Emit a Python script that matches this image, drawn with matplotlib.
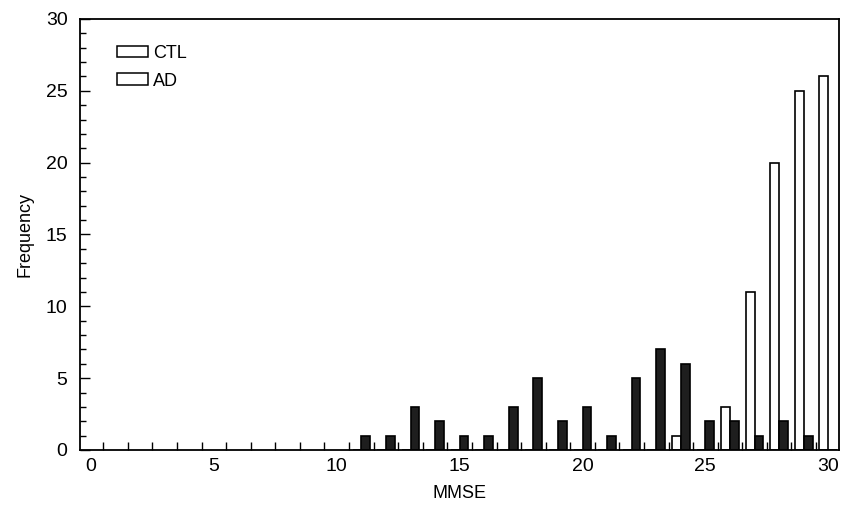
import matplotlib
matplotlib.use("Agg")
import matplotlib.pyplot as plt
from matplotlib.patches import Patch
from matplotlib.ticker import MultipleLocator, FixedLocator

plt.rcParams['font.family'] = ['Liberation Sans', 'DejaVu Sans']

# MMSE score categories
scores = list(range(11, 31))
# Frequencies
ctl_freq = [0, 0, 0, 0, 0, 0, 0, 0, 0, 0, 0, 0, 0, 1, 0, 3, 11, 20, 25, 26]
ad_freq = [1, 1, 3, 2, 1, 1, 3, 5, 2, 3, 1, 5, 7, 6, 2, 2, 1, 2, 1, 0]

x_ticks = [0, 5, 10, 15, 20, 25, 30]
y_ticks = [0, 5, 10, 15, 20, 25, 30]

fig = plt.figure(figsize=(8.43, 5.08), dpi=100)
ax = fig.add_axes([0.0949, 0.1142, 0.9007, 0.8484])

bw = 0.36
ctl_x = [s - bw / 2 for s in scores]
ad_x = [s + bw / 2 for s in scores]
ax.bar(ctl_x, ctl_freq, width=bw, facecolor='white', edgecolor='black',
       linewidth=1.2, zorder=2)
ax.bar(ad_x, ad_freq, width=bw, facecolor='#1e1e1e', edgecolor='black',
       linewidth=1.2, zorder=2)

ax.set_xlim(-0.45, 30.45)
ax.set_ylim(0, 30)

ax.xaxis.set_major_locator(FixedLocator(x_ticks))
ax.xaxis.set_minor_locator(FixedLocator([i + 0.5 for i in range(0, 30)]))
ax.yaxis.set_major_locator(FixedLocator(y_ticks))
ax.yaxis.set_minor_locator(MultipleLocator(1))

ax.tick_params(axis='x', which='major', length=0, pad=6, labelsize=14)
ax.tick_params(axis='x', which='minor', direction='in', length=6, width=1)
ax.tick_params(axis='y', which='major', direction='in', length=7, width=1,
               pad=9, labelsize=14)
ax.tick_params(axis='y', which='minor', direction='in', length=4, width=1)

for sp in ax.spines.values():
    sp.set_linewidth(1.3)

ax.set_xlabel('MMSE', fontsize=13, labelpad=7)
ax.set_ylabel('Frequency', fontsize=13, labelpad=9)

handles = [Patch(facecolor='white', edgecolor='black', linewidth=1.1, label='CTL'),
           Patch(facecolor='white', edgecolor='black', linewidth=1.1, label='AD')]
ax.legend(handles=handles, loc='upper left', bbox_to_anchor=(0.039, 0.957),
          frameon=False, fontsize=13, handlelength=1.7, handleheight=0.6,
          handletextpad=0.3, labelspacing=0.6, borderaxespad=0)

fig.savefig('out.png', dpi=100)
